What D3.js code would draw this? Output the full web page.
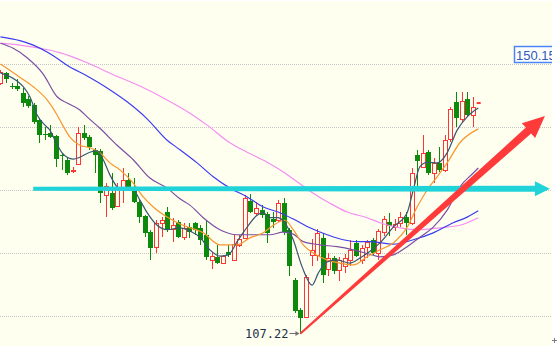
<!DOCTYPE html>
<html>
<head>
<meta charset="utf-8">
<script src="https://cdn.jsdelivr.net/npm/d3@7"></script>
<style>
  html, body { margin: 0; padding: 0; background: #ffffff; }
  svg { display: block; }
</style>
</head>
<body>
<svg id="chart" width="557" height="346"></svg>
<script>
// candles: [open, high, low, close]
var candles = [
  [146.99,149.05,146.67,148.73],[148.57,148.73,146.99,147.62],[146.51,146.99,146.03,146.35],
  [146.51,147.62,145.72,146.03],[145.40,146.19,143.18,143.81],[144.45,144.92,143.02,143.33],
  [143.49,143.81,140.48,140.79],[141.11,141.43,137.46,138.73],[138.85,140.00,137.94,138.73],
  [139.05,140.32,138.26,138.41],[138.57,138.73,133.65,134.92],[135.48,135.87,133.18,135.40],
  [134.76,135.24,132.38,132.70],[133.10,133.65,132.70,133.18],[134.13,140.00,133.97,139.05],
  [139.05,140.32,137.94,138.26],[138.41,138.73,136.35,136.83],[136.35,136.67,132.70,135.56],
  [136.19,136.51,127.94,129.53],[129.21,131.11,125.72,130.64],[129.53,132.70,126.83,127.14],
  [127.46,131.11,127.30,130.32],[130.16,133.49,127.94,131.59],[131.59,132.70,130.16,130.32],
  [130.32,131.91,127.94,128.10],[128.10,128.41,124.76,125.72],[125.87,126.03,122.54,123.17],
  [123.33,123.65,118.89,120.79],[120.95,125.24,120.00,124.76],[124.76,125.72,122.54,125.24],
  [126.51,127.30,123.33,123.65],[123.81,125.56,121.75,124.44],[124.92,125.24,122.38,122.54],
  [122.54,124.76,122.06,123.97],[124.13,124.76,122.38,123.33],[124.76,124.92,122.86,123.65],
  [123.97,124.44,121.27,122.06],[122.86,125.24,118.89,119.37],[118.89,120.16,117.46,119.52],
  [119.37,121.27,118.30,118.41],[118.41,119.68,118.25,119.52],[120.16,121.27,119.37,119.68],
  [118.89,122.86,118.73,121.43],[121.27,122.86,120.95,122.22],[122.38,129.21,122.22,128.73],
  [128.25,129.37,126.35,126.51],[126.35,128.10,125.87,127.14],[126.83,127.62,125.56,126.03],
  [126.19,126.51,121.59,123.17],[125.40,126.51,123.97,124.92],[125.24,128.41,124.92,127.94],
  [127.94,128.73,122.86,123.33],[123.65,124.00,116.35,117.94],[115.71,116.00,110.50,110.79],
  [110.95,111.30,107.22,109.68],[109.84,116.51,109.68,116.19],[119.68,122.22,117.94,120.48],
  [119.68,123.81,118.73,123.17],[122.38,123.00,115.24,116.51],[117.46,120.00,116.35,119.21],
  [119.21,119.52,116.67,117.14],[117.30,119.37,115.56,118.89],[117.94,119.84,116.83,119.21],
  [118.89,122.06,117.94,120.48],[121.59,122.06,119.37,119.52],[118.89,121.27,118.25,120.79],
  [120.95,122.06,119.21,121.75],[122.06,122.38,119.68,120.00],[120.00,123.81,118.89,123.49],
  [123.33,125.87,122.70,125.40],[124.92,126.35,122.70,124.29],[124.13,125.40,123.49,124.60],
  [124.76,126.51,124.13,125.71],[125.71,126.51,122.86,124.76],[124.76,133.49,124.44,132.70],
  [135.56,136.35,130.48,134.60],[133.65,138.73,133.49,135.87],[136.03,136.35,132.38,132.70],
  [132.70,135.08,131.11,134.29],[134.29,136.83,132.86,133.18],[133.18,138.73,132.86,137.94],
  [138.10,143.18,137.62,142.86],[143.97,145.56,140.00,141.43],[141.27,145.56,140.79,144.13],
  [144.45,145.56,141.59,141.90],[141.90,144.76,140.00,143.18]
];

// moving averages: [bar index, price]
var ma5 = [[0,148.6],[3,147.3],[4.1,146.4],[5.3,144.8],[6.6,141.9],[8,140.3],[8.9,139.5],[9.8,137.9],
  [11.1,135.9],[12,135.2],[13.1,134.9],[14.3,135.2],[16.1,136.0],[17.4,136.2],[18.5,134.8],[19.7,132.4],
  [21,130.5],[22.1,130.0],[23.9,130.0],[25.1,128.4],[26.4,126.4],[28.2,124.4],[30,123.7],[32.3,124.0],
  [34.1,123.5],[35.9,122.5],[37.7,120.5],[39.5,119.5],[41,119.7],[42.6,121.8],[44.4,124.1],[46.2,126.0],
  [47.3,126.4],[48.5,125.6],[49.8,125.6],[51.2,124.8],[52.7,122.1],[54.3,117.8],[56.1,114.9],[57.2,116.8],
  [58.8,118.6],[60.6,118.9],[62.9,118.4],[64.7,119.2],[68.3,121.6],[70.7,124.1],[73.2,126.4],[74.3,130.0],
  [75.5,133.7],[76.8,134.4],[78.6,134.3],[80.4,135.9],[82.2,139.5],[84,141.6],[86,143.0]];
var ma10 = [[0,150.0],[3.5,147.9],[5.9,146.4],[8.4,144.3],[10.2,141.9],[10.7,141.1],[12.5,138.4],
  [14.3,137.1],[16.1,136.7],[17.9,135.9],[19.7,134.3],[21.5,133.2],[23.9,131.1],[25.7,128.9],[27.5,127.3],
  [30,125.7],[32.3,124.6],[36.5,123.2],[39.5,121.3],[42.6,121.3],[44.9,122.4],[47.3,123.2],[49.1,124.4],
  [51.2,125.2],[52.7,123.7],[54.5,121.3],[56.3,120.0],[58.8,118.9],[61.1,118.4],[63.5,118.1],[66,119.4],
  [68.3,120.5],[70.7,121.6],[73.2,124.1],[75,127.3],[76.8,130.0],[78.6,132.1],[80.4,134.3],[82.7,137.5],
  [86,139.7]];
var ma20 = [[0,153.3],[2.3,152.5],[4.8,151.0],[7.7,148.4],[10.2,144.8],[12,143.8],[14.3,142.7],
  [15.6,141.6],[17.9,139.8],[21,137.1],[23.9,134.8],[26.9,131.9],[30,130.3],[32.3,128.6],[34.1,127.6],
  [36.5,125.6],[39.5,123.7],[42.6,122.9],[46.2,122.9],[48.5,122.9],[50.9,123.3],[52.7,123.0],[54.5,121.8],
  [57.5,121.3],[60.6,121.0],[63.5,120.5],[66.5,119.8],[68.3,119.4],[70.7,119.7],[73.2,121.0],[75.5,122.5],
  [77.9,124.1],[80.4,126.8],[82.7,130.5],[85.1,132.7],[86,133.5]];
var ma40 = [[0,154.3],[3.5,153.7],[5.9,153.0],[8.4,151.9],[10.7,150.6],[12,149.8],[15.6,148.1],
  [19.2,146.2],[22.8,144.0],[26.4,141.3],[30,137.9],[32.3,136.4],[35.4,134.3],[38.3,132.1],[41.3,130.3],
  [44.4,128.9],[47.3,127.3],[50.3,126.4],[52.7,125.4],[55.7,124.0],[58.8,122.9],[61.7,122.1],[64.2,121.8],
  [66.5,121.8],[70.7,121.4],[74.3,122.1],[77.9,123.2],[81.5,124.8],[84,125.7],[86,126.7]];
var ma60 = [[0,153.3],[3.5,153.0],[7.1,152.5],[10.7,151.8],[15.6,150.2],[20.3,148.3],[25.1,146.5],
  [30,144.3],[34.1,142.2],[37.2,140.3],[41.3,137.5],[44.4,136.0],[48,134.4],[50.3,133.2],[53.4,131.3],
  [56.3,129.5],[59.3,127.9],[62.4,126.5],[66,125.6],[68.3,124.8],[71.9,124.0],[75.5,123.7],[79.1,124.0],
  [82.7,124.4],[86,125.6]];

var gridPrices = [110, 120, 130, 140, 150];
var lowIndex = 54, lowPrice = 107.22;
var tagPrice = "150.15";
var lastTick = 143.8;
var trendArrow = [[54, 107.22], [98, 141.75]];
var levelArrow = [[5.9, 130.2], [98.9, 130.2]];

var W = 557, H = 346, plotRight = 552;
var svg = d3.select('#chart');

var x = d3.scaleLinear().domain([0, 85]).range([0.44, 472.7]);
var y = d3.scaleLinear().domain([110, 150]).range([316, 64]);

var bg = '#fffff0';
svg.append('rect').attr('x', 0).attr('y', 1).attr('width', plotRight).attr('height', H - 1).attr('fill', bg);

// dotted grid
svg.append('g').selectAll('line').data(gridPrices).enter().append('line')
  .attr('x1', 0).attr('x2', plotRight)
  .attr('y1', function(d){ return Math.round(y(d)) + 0.5; })
  .attr('y2', function(d){ return Math.round(y(d)) + 0.5; })
  .attr('stroke', '#c6c6c6').attr('stroke-dasharray', '1,1');

// candles
var up = '#ff3535', down = '#0b8a0b';
var cg = svg.append('g').attr('shape-rendering', 'crispEdges');
candles.forEach(function(c, i){
  var k = Math.round(x(i));
  var isUp = c[3] >= c[0];
  var col = isUp ? up : down;
  cg.append('line').attr('x1', k + 0.5).attr('x2', k + 0.5)
    .attr('y1', y(c[1])).attr('y2', y(c[2])).attr('stroke', col);
  var top = Math.round(y(Math.max(c[0], c[3]))), bot = Math.round(y(Math.min(c[0], c[3])));
  if(isUp){
    cg.append('rect').attr('x', k - 1.5).attr('y', top + 0.5).attr('width', 4)
      .attr('height', Math.max(bot - top, 1)).attr('fill', bg).attr('stroke', col);
  } else {
    cg.append('rect').attr('x', k - 2).attr('y', top).attr('width', 5)
      .attr('height', Math.max(bot - top, 1)).attr('fill', col);
  }
});

// moving averages
var line = d3.line().x(function(d){ return x(d[0]); }).y(function(d){ return y(d[1]); })
  .curve(d3.curveMonotoneX);
[[ma60, '#f58cf2'], [ma40, '#3c3cf0'], [ma20, '#7a4fa3'], [ma10, '#f7962e'], [ma5, '#3a5670']]
  .forEach(function(m){
    svg.append('path').attr('d', line(m[0])).attr('fill', 'none')
      .attr('stroke', m[1]).attr('stroke-width', 1.2);
  });

// last price tick
svg.append('rect').attr('x', x(85) + 4).attr('y', y(lastTick) - 1).attr('width', 4).attr('height', 2)
  .attr('fill', up);

// tapered arrows
function arrowPoly(p0, p1, w0, w1, headLen, headW){
  var dx = p1[0] - p0[0], dy = p1[1] - p0[1], len = Math.sqrt(dx*dx + dy*dy);
  var ux = dx/len, uy = dy/len, nx = -uy, ny = ux;
  var bx = p1[0] - ux*headLen, by = p1[1] - uy*headLen;
  return [
    [p0[0] + nx*w0, p0[1] + ny*w0], [bx + nx*w1, by + ny*w1], [bx + nx*headW, by + ny*headW],
    [p1[0], p1[1]],
    [bx - nx*headW, by - ny*headW], [bx - nx*w1, by - ny*w1], [p0[0] - nx*w0, p0[1] - ny*w0]
  ];
}
function px(p){ return [x(p[0]), y(p[1])]; }

svg.append('polygon')
  .attr('points', arrowPoly(px(levelArrow[0]), px(levelArrow[1]), 2, 3, 15, 7.5).join(' '))
  .attr('fill', '#1fd3d8');
svg.append('polygon')
  .attr('points', arrowPoly(px(trendArrow[0]), px(trendArrow[1]), 1, 4, 22, 10).join(' '))
  .attr('fill', '#ff3a3a');

// low label
var lx = x(lowIndex), ly = y(lowPrice);
svg.append('line').attr('x1', lx - 11).attr('x2', lx - 2).attr('y1', ly).attr('y2', ly)
  .attr('stroke', '#707070');
svg.append('path').attr('d', 'M' + (lx - 1) + ',' + ly + 'l-4,-2.5v5z').attr('fill', '#707070');
svg.append('text').attr('x', lx - 12).attr('y', ly + 4).attr('text-anchor', 'end')
  .attr('font-family', 'DejaVu Sans Mono, monospace').attr('font-size', 12)
  .attr('fill', '#22304a').text(lowPrice.toFixed(2));

// price tag
svg.append('rect').attr('x', 514.5).attr('y', 46.5).attr('width', 42).attr('height', 16)
  .attr('fill', '#ffffff').attr('stroke', '#4a86f5').attr('stroke-width', 1.5);
svg.append('text').attr('x', 516).attr('y', 59.5)
  .attr('font-family', 'Liberation Sans, Arial, sans-serif').attr('font-size', 13)
  .attr('fill', '#2d5bb5').text(tagPrice);

// right margin
svg.append('rect').attr('x', plotRight).attr('y', 0).attr('width', W - plotRight).attr('height', H)
  .attr('fill', '#ffffff');
svg.append('path').attr('d', 'M552,340.5h5M554.5,338v5').attr('stroke', '#808080');
</script>
</body>
</html>
